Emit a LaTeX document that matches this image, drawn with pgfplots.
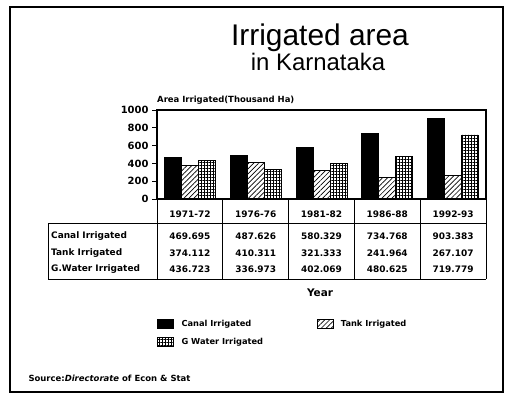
\documentclass[border=0pt]{standalone}
\usepackage{fontspec}
\setmainfont{DejaVu Sans}
\newfontfamily\titlefont{Liberation Sans}
\usepackage{pgfplots}
\usepackage{pgfplotstable}
\pgfplotsset{compat=1.18}
\usetikzlibrary{patterns.meta}
\pgfplotsset{my legend/.style={legend image code/.code={\draw[##1] (0bp,-4.5bp) rectangle (16bp,4.5bp);}}}

\pgfplotstableread{
x canal tank gw
0 469.695 374.112 436.723
1 487.626 410.311 336.973
2 580.329 321.333 402.069
3 734.768 241.964 480.625
4 903.383 267.107 719.779
}\datatable

\begin{document}
\begin{tikzpicture}[x=1bp,y=1bp]
\path[use as bounding box] (0,0) rectangle (507,402);
\draw[line width=1.5bp] (10,10) rectangle (503,395);
\node[anchor=base, font=\titlefont\fontsize{30}{32}\selectfont] at (320,357) {Irrigated area};
\node[anchor=base, font=\titlefont\fontsize{24}{26}\selectfont] at (318,332) {in Karnataka};
\node[anchor=base west, inner sep=0pt, font=\bfseries\fontsize{8.5}{10}\selectfont] at (157,300) {Area Irrigated(Thousand Ha)};

\begin{axis}[
  at={(157bp,203bp)}, anchor=south west,
  scale only axis, width=329bp, height=89bp,
  xmin=-0.5, xmax=4.5, ymin=0, ymax=1000,
  ytick={0,200,...,1000}, xtick=\empty,
  ytick pos=left, tick align=outside, major tick length=5bp,
  tick style={black, line width=0.9bp},
  /pgf/number format/assume math mode=true,
  /pgf/number format/1000 sep={},
  yticklabel style={font=\bfseries\fontsize{10}{11}\selectfont},
  axis line style={line width=1.2bp},
  ybar=0pt, bar width=17bp, clip=false,
  legend columns=2, legend cell align=left,
  legend style={draw=none, fill=none, at={(0,-1.343)}, anchor=north west,
    inner sep=0pt, font=\bfseries\fontsize{8.3}{9}\selectfont,
    /tikz/every odd column/.append style={column sep=6bp},
    /tikz/every even column/.append style={column sep=52bp},
    row sep=7bp, nodes={inner sep=1.5bp}},
]
\addplot[fill=black, draw=black, line width=0.8bp, my legend] table[x=x,y=canal]{\datatable};
\addlegendentry{Canal Irrigated}
\addplot[draw=black, line width=0.8bp, pattern={Lines[angle=45,distance=3.5bp,line width=0.7bp]}, my legend] table[x=x,y=tank]{\datatable};
\addlegendentry{Tank Irrigated}
\addplot[draw=black, line width=0.8bp, pattern={Hatch[angle=0,distance=3bp,line width=0.8bp]}, my legend] table[x=x,y=gw]{\datatable};
\addlegendentry{G Water Irrigated}
\end{axis}

% table grid
\begin{scope}[line width=0.9bp]
\draw (48,179) -- (486,179);
\draw (48,123) -- (486,123);
\draw (48,179) -- (48,123);
\foreach \xx in {157,222.8,288.6,354.4,420.2,486} \draw (\xx,203) -- (\xx,123);
\end{scope}

\begin{scope}[every node/.style={font=\bfseries\fontsize{9}{10}\selectfont, inner sep=0pt}]
\node at (189.9,188) {1971-72};
\node at (255.7,188) {1976-76};
\node at (321.5,188) {1981-82};
\node at (387.3,188) {1986-88};
\node at (453.1,188) {1992-93};
\node[anchor=west] at (51,166) {Canal Irrigated};
\node[anchor=west] at (51,149) {Tank Irrigated};
\node[anchor=west] at (51,133) {G.Water Irrigated};
\node at (189.9,166) {469.695};
\node at (255.7,166) {487.626};
\node at (321.5,166) {580.329};
\node at (387.3,166) {734.768};
\node at (453.1,166) {903.383};
\node at (189.9,149) {374.112};
\node at (255.7,149) {410.311};
\node at (321.5,149) {321.333};
\node at (387.3,149) {241.964};
\node at (453.1,149) {267.107};
\node at (189.9,133) {436.723};
\node at (255.7,133) {336.973};
\node at (321.5,133) {402.069};
\node at (387.3,133) {480.625};
\node at (453.1,133) {719.779};
\end{scope}

\node[font=\bfseries\fontsize{10.5}{12}\selectfont] at (320,109) {Year};
\node[anchor=west, font=\bfseries\fontsize{8.5}{9}\selectfont] at (25,24) {Source:\textit{Directorate} of Econ \& Stat};
\end{tikzpicture}
\end{document}
